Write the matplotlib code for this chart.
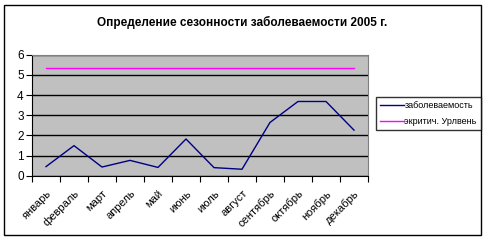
import matplotlib
matplotlib.use('Agg')
import numpy as np
import matplotlib.pyplot as plt
from matplotlib.patches import Rectangle

plt.rcParams['font.family'] = ['Liberation Sans', 'DejaVu Sans']

# ========== данные ==========
months = ['январь', 'февраль', 'март', 'апрель', 'май', 'июнь', 'июль',
          'август', 'сентябрь', 'октябрь', 'ноябрь', 'декабрь']
morbidity = [0.45, 1.49, 0.43, 0.76, 0.41, 1.82, 0.40, 0.32, 2.64, 3.68, 3.68, 2.26]
critical = [5.32] * 12

W, H = 485, 241
fig = plt.figure(figsize=(W / 100, H / 100), dpi=100)

# outer frame
fig.patches.append(Rectangle((4 / W, 6 / H), 477 / W, 230 / H, transform=fig.transFigure,
                             fill=False, edgecolor='black', linewidth=1.0))

ax = fig.add_axes([32 / W, 1 - 175.7 / H, 336 / W, 121 / H])
ax.set_facecolor('#C0C0C0')
x = np.arange(len(months))
ax.plot(x, morbidity, color='#000080', linewidth=1.0, label='заболеваемость')
ax.plot(x, critical, color='#FF00FF', linewidth=1.0, label='экритич. Урлвень')

ax.set_xlim(-0.5, 11.5)
ax.set_ylim(0, 6)
ax.set_yticks(range(7))
ax.yaxis.grid(True, color='black', linewidth=1.0)
ax.set_axisbelow(True)
ax.set_xticks(np.arange(-0.5, 12, 1))
ax.set_xticklabels([])
ax.set_xticks(x, minor=True)
ax.set_xticklabels(months, minor=True, rotation=45, ha='right', rotation_mode='anchor', fontsize=8)
ax.tick_params(axis='x', which='minor', length=0, pad=9)
ax.tick_params(axis='x', which='major', length=4, direction='out', color='black')
ax.tick_params(axis='y', length=4, direction='out', labelsize=8.5, pad=2)
for s in ['top', 'right']:
    ax.spines[s].set_color('#808080')
for s in ['left', 'bottom']:
    ax.spines[s].set_color('black')

fig.text(0.5, 1 - 22 / H, 'Определение сезонности заболеваемости 2005 г.',
         ha='center', va='center', fontsize=8.5, fontweight='bold')

leg = fig.legend(loc='upper left', bbox_to_anchor=(376 / W, 1 - 97 / H), fontsize=6.5,
                 frameon=True, fancybox=False, edgecolor='black', handlelength=2.6,
                 handletextpad=0.1, borderpad=0.45, labelspacing=0.75, borderaxespad=0)
leg.get_frame().set_linewidth(1.0)

fig.savefig('out.png', dpi=100)
